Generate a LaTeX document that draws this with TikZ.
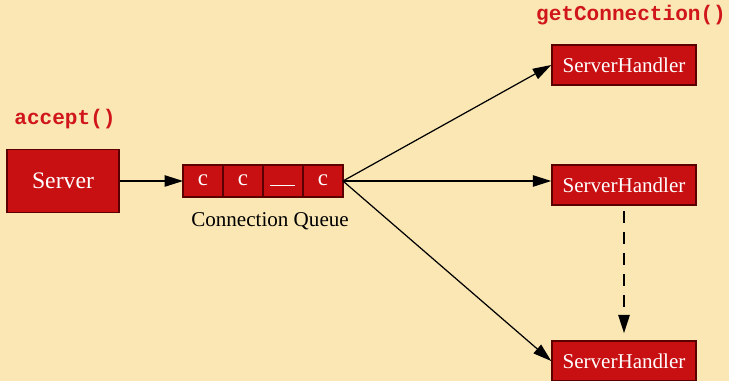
\documentclass[tikz,border=0pt]{standalone}
\usepackage{fontspec}
\setmainfont{Liberation Serif}
\setmonofont{Liberation Mono}
\usepackage{tikz}
\usetikzlibrary{arrows.meta, positioning}

\definecolor{bgyellow}{HTML}{FBE7B4}
\definecolor{boxred}{HTML}{C81012}
\definecolor{edgered}{HTML}{5A0000}
\definecolor{callred}{HTML}{D0161B}

\begin{document}
\begin{tikzpicture}[
    x=0.02cm, y=-0.02cm,
    proc/.style={rectangle, draw=edgered, fill=boxred, line width=0.9pt,
        text=white, font=\fontsize{12}{14}\selectfont, inner sep=0pt},
    cell/.style={rectangle, draw=edgered, fill=boxred, line width=0.9pt,
        text=white, font=\fontsize{13}{15}\selectfont, inner sep=0pt, outer sep=0pt,
        minimum width=0.8cm, minimum height=0.64cm,
        text height=1.4ex, text depth=0.2ex},
    call/.style={text=callred, font=\fontsize{12}{14}\ttfamily\bfseries},
    >={Triangle[length=10.5pt, width=6.5pt]}
]

% Background and page size
\fill[bgyellow] (0,0) rectangle (729,381);
\useasboundingbox (0,0) rectangle (729,381);

% Method names
\node[call] (accept) at (65,119) {accept()};
\node[call] (getconn) at (631,15) {getConnection()};

% Server
\node[proc, minimum width=2.24cm, minimum height=1.26cm,
    font=\fontsize{13.5}{15}\selectfont] (server) at (63,181) {Server};

% Connection queue (four slots)
\node[cell] (q1) at (203,181) {c};
\node[cell, right=0pt of q1] (q2) {c};
\node[cell, right=0pt of q2] (q3) {\rule{0.5cm}{0.6pt}};
\node[cell, right=0pt of q3] (q4) {c};
\node[font=\fontsize{12}{14}\selectfont] (qlabel) at (270,221) {Connection Queue};

% Handlers
\node[proc, minimum width=2.88cm, minimum height=0.8cm] (sh1) at (624,65) {ServerHandler};
\node[proc, minimum width=2.88cm, minimum height=0.8cm] (sh2) at (624,185) {ServerHandler};
\node[proc, minimum width=2.88cm, minimum height=0.8cm] (sh3) at (624,361) {ServerHandler};

% --- Connections ---
\draw[->, line width=0.7pt] (server) -- (q1);
\draw[->, line width=0.7pt] (q4.east) -- (sh1.west);
\draw[->, line width=0.7pt] (q4.east) -- (sh2.west |- q4.east);
\draw[->, line width=0.7pt] (q4.east) -- (sh3.west);

% Handler hand-off
\draw[->, dashed, dash pattern=on 7pt off 5pt, line width=1pt]
    ([yshift=-0.1cm]sh2.south) -- ([yshift=0.14cm]sh3.north);

\end{tikzpicture}
\end{document}
